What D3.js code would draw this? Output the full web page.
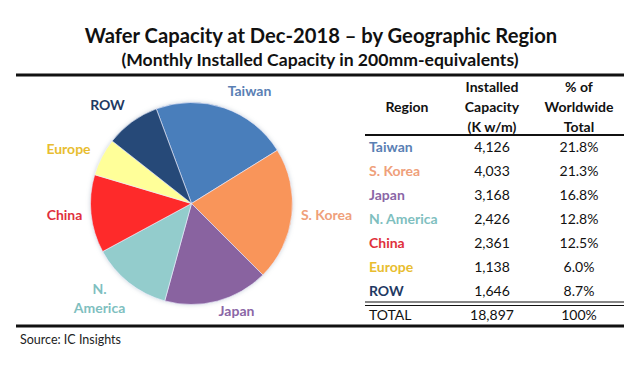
<!DOCTYPE html>
<html><head><meta charset="utf-8">
<script src="https://cdn.jsdelivr.net/npm/d3@7"></script>
<style>
body{margin:0;background:#fff;}
text{font-family:Lato,"Open Sans",sans-serif;}
</style></head>
<body><svg id="c" width="639" height="369"></svg>
<script>
const regions = ["Taiwan","S. Korea","Japan","N. America","China","Europe","ROW"];
const capacity = [4126,4033,3168,2426,2361,1138,1646];
const capacityLabels = ["4,126","4,033","3,168","2,426","2,361","1,138","1,646"];
const shareLabels = ["21.8%","21.3%","16.8%","12.8%","12.5%","6.0%","8.7%"];
const totalLabels = ["TOTAL","18,897","100%"];
const sliceColors = ["#4a7ebb","#f9955a","#8964a0","#93cccc","#fe2a2a","#ffff99","#254a78"];
const labelColors = ["#5a80b4","#efa07a","#8a66a6","#7fbfbf","#e0303c","#e8bd30","#1f3a63"];

const svg = d3.select("#c");
svg.append("text").attr("x",321).attr("y",43).attr("text-anchor","middle")
  .attr("font-size",20.2).attr("font-weight","bold").attr("fill","#111")
  .text("Wafer Capacity at Dec-2018 – by Geographic Region");
svg.append("text").attr("x",320).attr("y",66).attr("text-anchor","middle")
  .attr("font-size",17.6).attr("font-weight","bold").attr("fill","#111")
  .text("(Monthly Installed Capacity in 200mm-equivalents)");

svg.append("line").attr("x1",16).attr("x2",624).attr("y1",75).attr("y2",75).attr("stroke","#111").attr("stroke-width",3);
svg.append("line").attr("x1",16).attr("x2",624).attr("y1",326).attr("y2",326).attr("stroke","#111").attr("stroke-width",3);

// pie
const cx=191.5, cy=203.5, r=101;
const defs = svg.append("defs");
const f = defs.append("filter").attr("id","glow").attr("x","-20%").attr("y","-20%").attr("width","140%").attr("height","140%");
f.append("feGaussianBlur").attr("in","SourceAlpha").attr("stdDeviation",2).attr("result","b");
f.append("feFlood").attr("flood-color","#9ab").attr("flood-opacity",0.5);
f.append("feComposite").attr("in2","b").attr("operator","in").attr("result","s");
const m = f.append("feMerge"); m.append("feMergeNode").attr("in","s"); m.append("feMergeNode").attr("in","SourceGraphic");

const startA = -20.4*Math.PI/180;
const pie = d3.pie().sort(null).value(d=>d).startAngle(startA).endAngle(startA+2*Math.PI);
const arc = d3.arc().innerRadius(0).outerRadius(r);
const g = svg.append("g").attr("transform",`translate(${cx},${cy})`).attr("filter","url(#glow)");
g.selectAll("path").data(pie(capacity)).join("path")
  .attr("d",arc).attr("fill",(d,i)=>sliceColors[i]).attr("stroke","#eef").attr("stroke-width",0.6);

// pie labels
const lg = svg.append("g").attr("transform",`translate(${cx},${cy})`);
const labelPos = [[58,-108],[135,16],[45,112],[-92,90],[-127,16],[-123,-50],[-84,-94]];
regions.forEach((name,i)=>{
  const p = labelPos[i];
  if(name==="N. America"){
    const t = lg.append("text").attr("x",p[0]).attr("y",p[1]).attr("text-anchor","middle")
      .attr("font-size",14).attr("font-weight","bold").attr("fill",labelColors[i]);
    t.append("tspan").attr("x",p[0]).attr("dy",0).text("N.");
    t.append("tspan").attr("x",p[0]).attr("dy",19).text("America");
  } else {
    lg.append("text").attr("x",p[0]).attr("y",p[1]).attr("text-anchor","middle")
      .attr("font-size",14).attr("font-weight","bold").attr("fill",labelColors[i]).text(name);
  }
});

// table
const tx0=365, tx1=624;
const colRegion=369, colCap=492, colPct=579;
const hdr = svg.append("g").attr("font-size",14).attr("font-weight","bold").attr("fill","#111").attr("text-anchor","middle");
hdr.append("text").attr("x",407).attr("y",112).text("Region");
[["Installed",92],["Capacity",112],["(K w/m)",132]].forEach(d=>hdr.append("text").attr("x",colCap).attr("y",d[1]).text(d[0]));
[["% of",92],["Worldwide",112],["Total",132]].forEach(d=>hdr.append("text").attr("x",colPct).attr("y",d[1]).text(d[0]));
svg.append("line").attr("x1",tx0).attr("x2",tx1).attr("y1",135).attr("y2",135).attr("stroke","#111").attr("stroke-width",1.8);

const y = d3.scalePoint().domain(regions).range([152,296]);
const rows = svg.append("g").attr("font-size",14);
regions.forEach((name,i)=>{
  rows.append("text").attr("x",colRegion).attr("y",y(name)).attr("font-weight","bold").attr("fill",labelColors[i]).text(name);
  rows.append("text").attr("x",colCap).attr("y",y(name)).attr("text-anchor","middle").attr("fill","#111").text(capacityLabels[i]);
  rows.append("text").attr("x",colPct).attr("y",y(name)).attr("text-anchor","middle").attr("fill","#111").text(shareLabels[i]);
});
svg.append("line").attr("x1",tx0).attr("x2",tx1).attr("y1",302).attr("y2",302).attr("stroke","#111").attr("stroke-width",1.2);
svg.append("line").attr("x1",tx0).attr("x2",tx1).attr("y1",305.5).attr("y2",305.5).attr("stroke","#111").attr("stroke-width",1.2);
rows.append("text").attr("x",colRegion).attr("y",320).attr("fill","#111").text(totalLabels[0]);
rows.append("text").attr("x",colCap).attr("y",320).attr("text-anchor","middle").attr("fill","#111").text(totalLabels[1]);
rows.append("text").attr("x",colPct).attr("y",320).attr("text-anchor","middle").attr("fill","#111").text(totalLabels[2]);

svg.append("text").attr("x",20).attr("y",344).attr("font-size",12.5).attr("fill","#222").text("Source:  IC Insights");
</script></body></html>
